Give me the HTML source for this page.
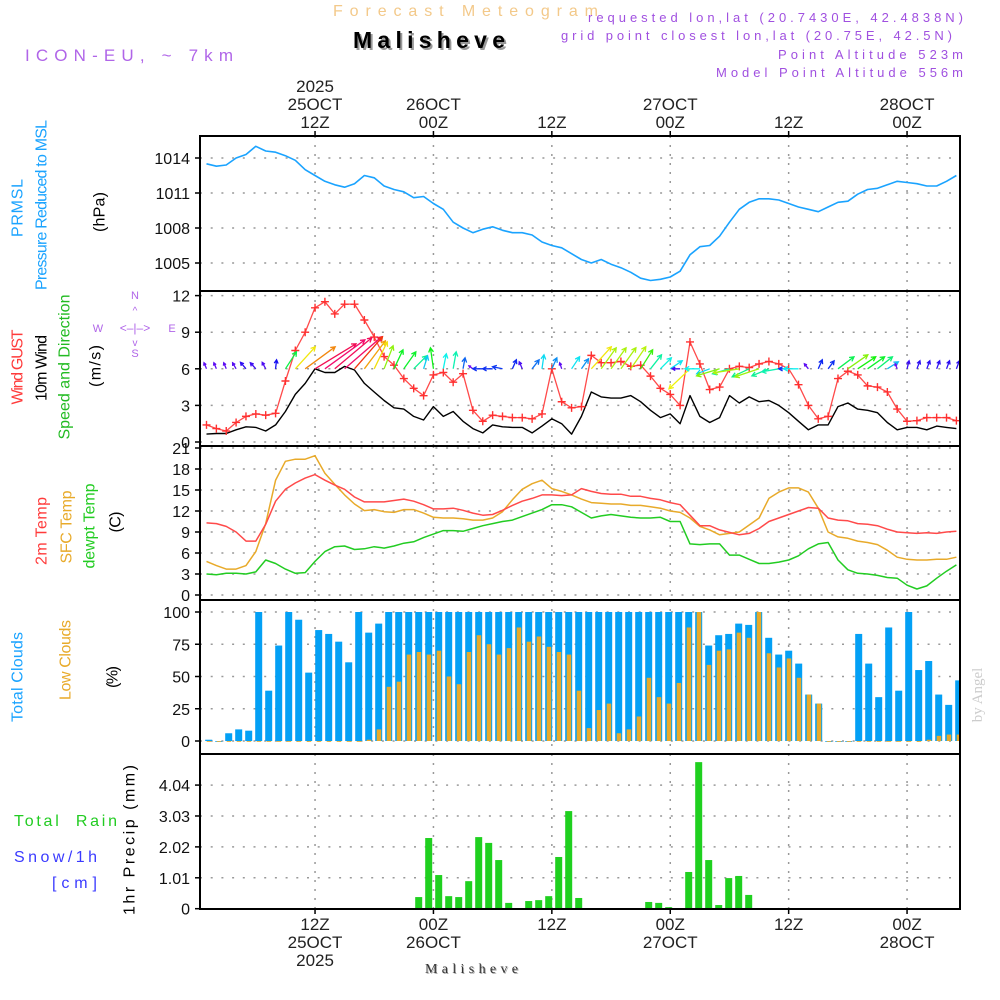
<!DOCTYPE html>
<html><head><meta charset="utf-8"><style>
html,body{margin:0;padding:0;background:#fff;}
svg{display:block;font-family:"Liberation Sans",sans-serif;}
</style></head><body>
<svg id="chart" width="1000" height="1000" viewBox="0 0 1000 1000" xmlns="http://www.w3.org/2000/svg">
<defs>
<clipPath id="c1"><rect x="200" y="136" width="760" height="155"/></clipPath>
<clipPath id="c2"><rect x="200" y="291" width="760" height="155"/></clipPath>
<clipPath id="c3"><rect x="200" y="446" width="760" height="154"/></clipPath>
<clipPath id="c4"><rect x="200" y="600" width="760" height="154"/></clipPath>
<clipPath id="c5"><rect x="200" y="754" width="760" height="155"/></clipPath>
</defs>
<g id="header">
<text x="333" y="16" font-size="16" fill="#f3c98a" textLength="265">Forecast Meteogram</text>
<text x="355" y="50" font-size="23" font-weight="bold" fill="#999" textLength="152">Malisheve</text>
<text x="353" y="48" font-size="23" font-weight="bold" fill="#000" textLength="152">Malisheve</text>
<text x="25" y="61" font-size="17" fill="#b065e8" textLength="208">ICON-EU, ~ 7km</text>
<text x="588" y="22" font-size="13" fill="#a050e0" textLength="375">requested lon,lat (20.7430E, 42.4838N)</text>
<text x="561" y="40" font-size="13" fill="#a050e0" textLength="391">grid point closest lon,lat (20.75E, 42.5N)</text>
<text x="778" y="59" font-size="13" fill="#a050e0" textLength="185">Point Altitude 523m</text>
<text x="716" y="77" font-size="13" fill="#a050e0" textLength="247">Model Point Altitude 556m</text>
</g>
<g id="leftlabels" font-size="16">
<text transform="translate(18,208) rotate(-90)" text-anchor="middle" dominant-baseline="central" fill="#1aa3ff" textLength="58">PRMSL</text>
<text transform="translate(42,205) rotate(-90)" text-anchor="middle" dominant-baseline="central" fill="#1aa3ff" textLength="170">Pressure Reduced to MSL</text>
<text transform="translate(100,212) rotate(-90)" text-anchor="middle" dominant-baseline="central" fill="#000" textLength="40">(hPa)</text>
<text transform="translate(18,367) rotate(-90)" text-anchor="middle" dominant-baseline="central" fill="#ff3b3b" textLength="75">Wind GUST</text>
<text transform="translate(42,368) rotate(-90)" text-anchor="middle" dominant-baseline="central" fill="#000" textLength="66">10m Wind</text>
<text transform="translate(65,367) rotate(-90)" text-anchor="middle" dominant-baseline="central" fill="#22bb22" textLength="145">Speed and Direction</text>
<text transform="translate(96,366) rotate(-90)" text-anchor="middle" dominant-baseline="central" fill="#000" textLength="42">(m/s)</text>
<g fill="#b065e8" font-size="11" text-anchor="middle">
<text x="135" y="299">N</text><text x="98" y="332">W</text><text x="172" y="332">E</text><text x="135" y="357">S</text>
<text x="135" y="332" font-size="12">&lt;–|–&gt;</text>
<text x="135" y="314" font-size="10">^</text><text x="135" y="346" font-size="10">v</text>
</g>
<text transform="translate(42,531) rotate(-90)" text-anchor="middle" dominant-baseline="central" fill="#ff3b3b" textLength="68">2m Temp</text>
<text transform="translate(67,527) rotate(-90)" text-anchor="middle" dominant-baseline="central" fill="#e8aa2a" textLength="73">SFC Temp</text>
<text transform="translate(90,526) rotate(-90)" text-anchor="middle" dominant-baseline="central" fill="#22cc22" textLength="85">dewpt Temp</text>
<text transform="translate(116,522) rotate(-90)" text-anchor="middle" dominant-baseline="central" fill="#000" textLength="21">(C)</text>
<text transform="translate(18,677) rotate(-90)" text-anchor="middle" dominant-baseline="central" fill="#1aa3ff" textLength="90">Total Clouds</text>
<text transform="translate(66,660) rotate(-90)" text-anchor="middle" dominant-baseline="central" fill="#e8aa2a" textLength="80">Low Clouds</text>
<text transform="translate(113,677) rotate(-90)" text-anchor="middle" dominant-baseline="central" fill="#000" textLength="22">(%)</text>
<text x="14" y="826" fill="#22cc22" textLength="103" xml:space="preserve">Total  Rain</text>
<text x="14" y="862" fill="#3a3aff" textLength="83">Snow/1h</text>
<text x="52" y="888" fill="#3a3aff" textLength="45">[cm]</text>
<text transform="translate(130,840) rotate(-90)" text-anchor="middle" dominant-baseline="central" fill="#000" textLength="150">1hr Precip (mm)</text>
</g>
<text transform="translate(978,695) rotate(-90)" text-anchor="middle" dominant-baseline="central" font-family="Liberation Serif,serif" font-size="15" fill="#ccc">by Angel</text>
<text x="426" y="974" font-family="Liberation Serif,serif" font-size="14" fill="#aaa" textLength="93">Malisheve</text>
<text x="425" y="973" font-family="Liberation Serif,serif" font-size="14" fill="#333" textLength="93">Malisheve</text>
<g id="plot"></g>
</svg>
<script>
// ---- data (hourly, 01Z 25 OCT -> 05Z 28 OCT) ----
const pressure=[1013.5,1013.3,1013.4,1014.0,1014.3,1015.0,1014.6,1014.5,1014.2,1013.8,1013.0,1012.5,1012.0,1011.7,1011.5,1011.8,1012.5,1012.3,1011.6,1011.3,1011.1,1010.6,1010.7,1010.1,1009.6,1008.5,1008.0,1007.6,1007.9,1008.1,1007.8,1007.6,1007.6,1007.4,1006.8,1006.5,1006.3,1005.8,1005.3,1005.0,
1005.3,1004.9,1004.6,1004.2,1003.7,1003.5,1003.6,1003.8,1004.3,1005.7,1006.4,1006.5,1007.3,1008.5,1009.6,1010.2,1010.5,1010.5,1010.4,1010.1,1009.8,1009.6,1009.4,1009.8,1010.2,1010.3,1010.9,1011.3,1011.4,1011.7,1012.0,1011.9,1011.8,1011.6,1011.6,1012.0,1012.5];
const gust=[1.4,1.1,0.9,1.6,2.1,2.3,2.2,2.35,5.0,7.5,9.0,11.0,11.5,10.5,11.3,11.3,10.0,8.6,7.0,6.3,5.2,4.4,3.8,5.5,5.7,4.9,5.6,2.6,1.7,2.2,2.1,2.0,2.0,1.9,2.3,6.0,3.3,2.8,2.9,7.1,
6.5,6.5,6.6,6.2,6.3,5.4,4.4,3.9,3.0,8.2,6.4,4.3,4.5,6.0,6.2,6.1,6.4,6.6,6.4,6.0,4.7,3.0,1.9,2.1,5.2,5.8,5.5,4.6,4.5,4.1,2.7,1.7,1.75,2.0,2.0,2.0,1.75];
const wind10=[0.65,0.7,0.7,1.0,1.25,1.2,0.9,1.4,2.5,3.9,4.8,6.0,5.7,5.7,6.2,5.9,4.8,4.1,3.4,2.8,2.7,2.1,1.8,2.9,2.1,2.5,1.7,1.1,0.75,1.4,1.25,1.2,1.2,0.75,1.3,1.9,1.5,0.65,2.1,4.1,
3.7,3.6,3.6,3.8,3.3,2.6,2.0,2.3,1.5,3.8,2.1,1.6,2.0,3.8,3.2,3.7,3.3,3.4,3.0,2.4,1.7,1.0,1.4,1.4,2.9,3.2,2.7,2.6,2.4,1.6,1.0,1.2,1.2,1.0,1.3,1.2,1.1];
const windU=[-0.5,-0.5,-0.5,-0.7,-1.1,-1.1,-0.7,0.2,2.2,4.0,6.0,8.2,8.0,7.4,7.4,5.6,4.2,2.6,1.8,1.8,2.4,2.6,0.8,-0.6,0.6,0.6,0.4,-0.8,-2.0,-2.0,-2.0,0.8,-0.6,1.4,0.4,1.0,-0.4,1.6,1.4,4.0,
3.0,3.0,3.0,3.0,2.4,2.2,2.2,2.4,-1.6,-4.2,-3.0,-2.6,-4.6,-3.4,-5.2,-3.4,-4.8,-3.4,-3.4,-2.0,-3.0,-0.8,0.8,1.2,3.2,4.0,3.6,3.4,3.0,2.2,-0.4,0.4,0.6,0.6,0.6,0.6,0.6];
const windV=[1.2,1.2,1.2,1.2,1.3,1.2,1.3,1.8,3.4,4.4,4.4,5.0,5.8,6.2,6.4,6.4,5.6,5.4,4.6,3.8,3.4,2.6,2.6,4.2,3.0,3.4,2.2,0.6,0,0,0.4,1.8,1.4,1.8,2.8,2.2,1.2,2.4,2.0,4.4,
4.2,4.2,4.2,4.4,3.8,2.8,2.2,1.6,0,-4.0,0,-1.0,-1.4,-1.0,-0.8,-1.6,-1.6,-1.4,-0.6,0,0,1.0,1.8,1.6,2.4,2.8,2.4,2.4,2.4,1.4,1.0,1.6,1.6,1.6,1.6,1.6,1.6];
const temp2m=[10.3,10.2,9.8,9.0,7.7,7.7,10.1,13.4,15.1,16.0,16.7,17.2,16.4,15.7,15.1,14.0,13.3,13.3,13.3,13.5,13.7,13.4,12.9,12.3,12.3,12.4,12.1,11.7,11.4,11.5,12.1,12.8,13.4,13.8,14.3,14.3,14.2,14.3,15.2,14.8,
14.5,14.4,14.4,14.1,14.1,13.8,13.6,13.2,12.9,11.4,9.9,9.9,9.3,8.95,8.6,8.8,9.5,10.5,11.0,11.5,12.0,12.5,12.4,11.0,10.7,10.6,10.2,10.1,9.9,9.4,9.0,8.9,8.8,8.9,8.8,9.0,9.1];
const tempSfc=[4.8,4.2,3.7,3.7,4.2,6.2,10.2,16.4,19.1,19.4,19.4,19.9,17.4,15.8,14.3,13.0,12.05,12.2,11.9,11.8,12.2,12.2,11.7,11.1,11.0,11.0,10.9,10.7,10.7,11.0,11.9,13.6,15.1,15.9,16.4,15.2,14.8,14.3,13.7,13.2,
13.1,13.0,13.0,12.8,12.8,12.6,12.4,12.0,11.8,11.0,9.8,9.3,8.6,8.8,9.0,10.0,11.0,13.8,14.7,15.3,15.3,14.7,12.4,9.0,8.3,8.1,7.7,7.5,7.2,6.4,5.4,5.1,5.0,5.0,5.1,5.1,5.4];
const dewpt=[3.0,2.9,3.1,3.1,3.0,3.3,5.0,4.5,3.7,3.1,3.2,4.8,6.2,6.9,7.0,6.5,6.6,6.9,6.7,7.0,7.4,7.6,8.2,8.7,9.2,9.2,9.1,9.5,9.9,10.2,10.5,10.7,11.2,11.7,12.2,12.9,12.9,12.6,11.8,11.0,
11.3,11.5,11.3,11.1,11.0,11.0,11.1,10.5,10.5,7.3,7.2,7.3,7.3,5.7,5.7,5.1,4.5,4.5,4.7,5.0,5.6,6.6,7.3,7.5,5.0,3.6,3.1,3.0,2.8,2.5,2.4,1.4,0.86,1.3,2.4,3.4,4.3];
const totalClouds=[1,0,6,9,8,100,39,74,100,94,53,86,83,77,61,100,84,91,
100,100,100,100,100,100,100,100,100,100,100,100,100,100,100,100,100,100,100,100,100,100,100,100,100,100,100,100,100,100,100,100,
74,82,83,91,90,100,80,67,70,60,36,29,0,0,0,83,60,34,88,39,100,55,62,36,28,47];
const lowClouds=[0,0,0,0,0,0,0,0,0,0,0,0,0,0,0,0,1,9,42,46,67,69,67,70,50,44,69,82,75,67,72,88,77,81,73,69,67,39,
10,24,29,6,9,19,49,34,29,45,88,100,59,70,71,84,80,100,68,57,64,49,36,29,0,0,0,0,0,0,0,0,0,0,1,4,5,5];
const precip=[0,0,0,0,0,0,0,0,0,0,0,0,0,0,0,0,0,0,0,0,0,
0.38,2.31,1.10,0.41,0.38,0.90,2.34,2.15,1.59,0.19,0,0.25,0.28,0.41,1.69,3.19,0.35,
0,0,0,0,0,0,0.22,0.19,0.05,0,1.20,4.79,1.59,0.12,1.00,1.07,0.45,
0,0,0,0,0,0,0,0,0,0,0,0,0,0,0,0,0,0,0,0,0];
const timeTickHours=[11,23,35,47,59,71];
const timeTickTop=[["2025","25OCT","12Z"],["","26OCT","00Z"],["","","12Z"],["","27OCT","00Z"],["","","12Z"],["","28OCT","00Z"]];
const timeTickBottom=[["12Z","25OCT","2025"],["00Z","26OCT",""],["12Z","",""],["00Z","27OCT",""],["12Z","",""],["00Z","28OCT",""]];
const pTicks=[1014,1011,1008,1005];
const wTicks=[12,9,6,3,0];
const tTicks=[21,18,15,12,9,6,3,0];
const cTicks=[100,75,50,25,0];
const rTicks=[4.04,3.03,2.02,1.01,0];

// ---- scales ----
const xT=i=>206.5+9.867*i;
const xB=k=>208.7+10*k;
const yP=p=>158+(1014-p)*11.667;
const yW=v=>442-v*12.2;
const yT=t=>595-t*7;
const yC=c=>741-c*1.29;
const yR=r=>908.7-r*30.6;
const NS="http://www.w3.org/2000/svg";
const plot=document.getElementById('plot');
function mk(tag,attrs,parent){const e=document.createElementNS(NS,tag);for(const k in attrs)e.setAttribute(k,attrs[k]);(parent||plot).appendChild(e);return e;}
function grp(clip){const g=mk('g',clip?{'clip-path':'url(#'+clip+')'}:{});return g;}

const panels=[[136,291,'c1'],[291,446,'c2'],[446,600,'c3'],[600,754,'c4'],[754,909,'c5']];
const gridG=grp();


panels.forEach(p=>{timeTickHours.forEach(h=>{const l=mk('line',{x1:xT(h),x2:xT(h),y1:p[0],y2:p[1],stroke:'#999','stroke-width':1.5,'stroke-dasharray':'2 7'},gridG);

});});
function hgrid(ticks,fy,lo,hi){ticks.forEach(t=>{const y=fy(t);if(y>lo+1&&y<hi-1){const l=mk('line',{x1:200,x2:960,y1:y,y2:y,stroke:'#999','stroke-width':1.5,'stroke-dasharray':'2 8.7'},gridG);

}});}
hgrid(pTicks,yP,136,291);hgrid(wTicks,yW,291,446);hgrid(tTicks,yT,446,600);hgrid(cTicks,yC,600,754);hgrid(rTicks,yR,754,909);

function ylabels(ticks,fy,fmt,name){ticks.forEach(t=>{const y=fy(t);const tx=mk('text',{x:190,y:y+6,'text-anchor':'end','font-size':16,fill:'#111'});tx.textContent=fmt(t);


const tk=mk('line',{x1:195,x2:200,y1:y,y2:y,stroke:'#000','stroke-width':1.5});

});}
ylabels(pTicks,yP,t=>String(t),'pressure-tick');
ylabels(wTicks,yW,t=>String(t),'wind-tick');
ylabels(tTicks,yT,t=>String(t),'temp-tick');
ylabels(cTicks,yC,t=>String(t),'cloud-tick');
ylabels(rTicks,yR,t=>t===0?'0':t.toFixed(2),'precip-tick');

timeTickHours.forEach((h,j)=>{const x=xT(h);
timeTickTop[j].forEach((s,r)=>{if(!s)return;const t=mk('text',{x:x,y:92+r*18,'text-anchor':'middle','font-size':17,fill:'#222'});t.textContent=s;

});
timeTickBottom[j].forEach((s,r)=>{if(!s)return;const t=mk('text',{x:x,y:930+r*18,'text-anchor':'middle','font-size':17,fill:'#222'});t.textContent=s;

});
const a=mk('line',{x1:x,x2:x,y1:131,y2:136,stroke:'#000','stroke-width':1.5});


const b=mk('line',{x1:x,x2:x,y1:909,y2:914,stroke:'#000','stroke-width':1.5});

});

function poly(arr,fx,fy,color,clip,name,w){const pts=arr.map((v,i)=>fx(i).toFixed(1)+','+fy(v).toFixed(1)).join(' ');const g=grp(clip);const p=mk('polyline',{points:pts,fill:'none',stroke:color,'stroke-width':w||1.5,'stroke-linejoin':'round'},g);

return p;}

poly(pressure,xT,yP,'#1aa3ff','c1','pressure-line',1.6);

poly(wind10,xT,yW,'#000','c2','wind10-line',1.4);
poly(gust,xT,yW,'#ff4a4a','c2','gust-line',1.3);
const gm=grp('c2');
gust.forEach((v,i)=>{const x=xT(i),y=yW(v);const m=mk('path',{d:`M${x-4} ${y}H${x+4}M${x} ${y-4}V${y+4}`,stroke:'#ff3030','stroke-width':1.4,fill:'none'},gm);

});
const hueStops=[[0,285],[8,255],[13,195],[19,150],[24,90],[30,55],[38,30],[45,0],[50,330]];
function arrowHue(L){for(let j=1;j<hueStops.length;j++){if(L<=hueStops[j][0]){const a=hueStops[j-1],b=hueStops[j];const f=(L-a[0])/(b[0]-a[0]);let h1=a[1],h2=b[1];if(h2>h1&&h1===0)h1=360;return h1+(h2-h1)*f;}}return 330;}
const ag=grp('c2');
const arrowScale=5, arrowBase=yW(6);
windU.forEach((u,i)=>{const v=windV[i];const dx=u*arrowScale,dy=-v*arrowScale;const L=Math.hypot(dx,dy);if(L<0.5)return;
const x0=xT(i),y0=arrowBase,x1=x0+dx,y1=y0+dy;const ang=Math.atan2(dy,dx);const hl=Math.min(5,L*0.45);
const hx1=x1-hl*Math.cos(ang-0.5),hy1=y1-hl*Math.sin(ang-0.5),hx2=x1-hl*Math.cos(ang+0.5),hy2=y1-hl*Math.sin(ang+0.5);
const c='hsl('+arrowHue(L).toFixed(0)+',90%,50%)';
const a=mk('path',{d:`M${x0} ${y0}L${x1} ${y1}M${hx1} ${hy1}L${x1} ${y1}L${hx2} ${hy2}`,stroke:c,'stroke-width':1.3,fill:'none'},ag);

});

poly(tempSfc,xT,yT,'#e8aa2a','c3','sfc-temp-line',1.5);
poly(temp2m,xT,yT,'#ff4a4a','c3','temp2m-line',1.5);
poly(dewpt,xT,yT,'#22cc22','c3','dewpt-line',1.5);

const cg=grp('c4');
totalClouds.forEach((c,k)=>{const y=yC(c);const r=mk('rect',{x:xB(k)-3.5,y:y,width:7,height:Math.max(741-y,0.8),fill:'#03a0f5'},cg);

});
lowClouds.forEach((c,k)=>{const y=yC(c);const r=mk('rect',{x:xB(k)-2,y:y,width:4.5,height:Math.max(741-y,0.8),fill:'#e8aa2a'},cg);

});

const rg=grp('c5');
precip.forEach((r,k)=>{if(r<=0)return;const y=yR(r);const b=mk('rect',{x:xB(k)-3.5,y:y,width:7,height:908.7-y,fill:'#1fd01f'},rg);

});

panels.forEach((p,j)=>{const f=mk('rect',{x:200,y:p[0],width:760,height:p[1]-p[0],fill:'none',stroke:'#000','stroke-width':2});

});
</script>
</body></html>
